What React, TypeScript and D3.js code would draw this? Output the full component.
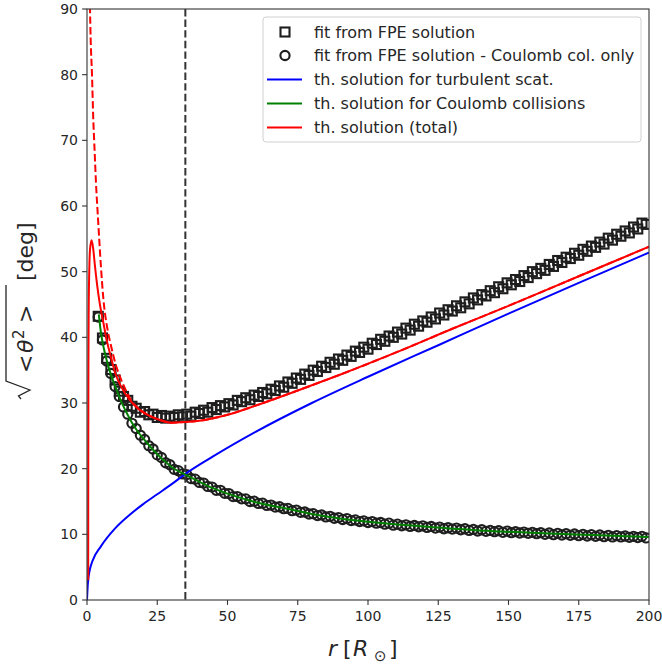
import React from 'react';
import * as d3 from 'd3';

// ---------- data ----------
const X_TICKS = [0, 25, 50, 75, 100, 125, 150, 175, 200];
const Y_TICKS = [0, 10, 20, 30, 40, 50, 60, 70, 80, 90];
const R_CRIT = 35;

// marker abscissae (r in solar radii)
const R_MARKERS = [
  4, 5.5, 7, 8.5, 10, 11.5, 13, 14.5, 16, 17.5,
  19, 20.5, 22, 23.5, 25, 26.5, 28, 29.5, 31, 32.5,
  34, 35.5, 37, 38.5, 40, 41.5, 43, 44.5, 46, 47.5,
  49, 50.5, 52, 53.5, 55, 56.5, 58, 59.5, 61, 62.5,
  64, 65.5, 67, 68.5, 70, 71.5, 73, 74.5, 76, 77.5,
  79, 80.5, 82, 83.5, 85, 86.5, 88, 89.5, 91, 92.5,
  94, 95.5, 97, 98.5, 100, 101.5, 103, 104.5, 106, 107.5,
  109, 110.5, 112, 113.5, 115, 116.5, 118, 119.5, 121, 122.5,
  124, 125.5, 127, 128.5, 130, 131.5, 133, 134.5, 136, 137.5,
  139, 140.5, 142, 143.5, 145, 146.5, 148, 149.5, 151, 152.5,
  154, 155.5, 157, 158.5, 160, 161.5, 163, 164.5, 166, 167.5,
  169, 170.5, 172, 173.5, 175, 176.5, 178, 179.5, 181, 182.5,
  184, 185.5, 187, 188.5, 190, 191.5, 193, 194.5, 196, 197.5,
  199,
];

// fit from FPE solution (squares)
const FPE_TOTAL = [
  43.2, 39.9, 36.8, 35.1, 33.5, 31.8, 31.0, 30.4, 29.5, 29.2,
  28.6, 28.7, 28.2, 28.3, 27.8, 28.1, 27.7, 28.0, 27.8, 28.2,
  27.9, 28.3, 28.0, 28.6, 28.4, 28.9, 28.6, 29.3, 29.0, 29.6,
  29.4, 29.9, 29.7, 30.4, 30.2, 30.8, 30.5, 31.2, 31.0, 31.6,
  31.4, 32.1, 31.9, 32.6, 32.4, 33.2, 33.0, 33.8, 33.6, 34.4,
  34.2, 35.0, 34.8, 35.6, 35.4, 36.2, 35.9, 36.7, 36.5, 37.3,
  37.1, 37.9, 37.7, 38.5, 38.2, 39.1, 38.9, 39.7, 39.4, 40.2,
  40.0, 40.8, 40.5, 41.4, 41.1, 42.0, 41.7, 42.5, 42.3, 43.1,
  42.8, 43.7, 43.4, 44.2, 44.0, 44.8, 44.5, 45.4, 45.1, 46.0,
  45.7, 46.5, 46.3, 47.1, 46.8, 47.7, 47.4, 48.3, 48.0, 48.8,
  48.5, 49.4, 49.1, 50.0, 49.7, 50.5, 50.2, 51.1, 50.8, 51.7,
  51.4, 52.2, 52.0, 52.8, 52.5, 53.4, 53.1, 53.9, 53.7, 54.5,
  54.2, 55.1, 54.8, 55.7, 55.4, 56.2, 55.9, 56.8, 56.5, 57.4,
  57.2,
];

// fit from FPE solution - Coulomb col. only (circles)
const FPE_COULOMB = [
  43.1, 39.6, 36.4, 34.5, 32.5, 31.0, 29.4, 28.3, 26.9, 26.1,
  25.1, 24.45, 23.5, 23.0, 22.1, 21.7, 20.9, 20.6, 19.9, 19.7,
  19.2, 19.1, 18.5, 18.4, 17.9, 17.8, 17.3, 17.2, 16.7, 16.7,
  16.25, 16.2, 15.75, 15.75, 15.4, 15.4, 15.0, 15.05, 14.7, 14.75,
  14.4, 14.45, 14.15, 14.2, 13.9, 13.95, 13.6, 13.7, 13.35, 13.4,
  13.1, 13.15, 12.85, 12.95, 12.65, 12.75, 12.45, 12.55, 12.25, 12.4,
  12.1, 12.2, 11.95, 12.05, 11.8, 11.95, 11.7, 11.8, 11.55, 11.7,
  11.4, 11.55, 11.3, 11.45, 11.2, 11.35, 11.15, 11.3, 11.05, 11.2,
  10.95, 11.1, 10.85, 11.0, 10.8, 10.95, 10.7, 10.85, 10.6, 10.75,
  10.5, 10.7, 10.45, 10.6, 10.4, 10.55, 10.3, 10.5, 10.25, 10.4,
  10.2, 10.35, 10.15, 10.3, 10.1, 10.25, 10.0, 10.2, 9.95, 10.15,
  9.9, 10.1, 9.85, 10.05, 9.8, 10.0, 9.75, 9.95, 9.7, 9.9,
  9.65, 9.85, 9.6, 9.8, 9.6, 9.75, 9.55, 9.7, 9.5, 9.7,
  9.45,
];

// th. solution for turbulent scat. (blue)
const TURB_R = [0, 0.3, 1, 2, 5, 10, 15, 20, 25, 30, 35, 45, 60, 80, 100, 125, 150, 175, 200];
const TURB_V = [0, 2.5, 4.6, 6.0, 8.2, 10.9, 12.9, 14.6, 16.1, 17.6, 19.2, 21.9, 25.6, 30.0, 34.0, 38.8, 43.6, 48.3, 52.9];

// th. solution for Coulomb collisions (green)
const COUL_R = [4.2, 5, 6, 7, 8, 9, 10, 12, 14, 16, 18, 20, 22, 25, 28, 30, 33, 35, 40, 45, 50, 60, 70, 80, 90, 100, 120, 140, 160, 180, 200];
const COUL_V = [43.5, 40.6, 38.3, 36.5, 35.0, 33.7, 32.6, 30.4, 28.6, 27.0, 25.7, 24.6, 23.6, 22.2, 21.0, 20.3, 19.5, 19.1, 18.0, 17.0, 16.2, 14.9, 14.0, 13.1, 12.4, 11.9, 11.2, 10.6, 10.2, 9.9, 9.6];

// th. solution (total), solid red
const TOTAL_R = [0.42, 0.45, 0.5, 0.6, 0.8, 1.1, 1.65, 2.2, 2.85, 3.6, 4.6, 5.8, 7, 8.5, 10, 12, 15, 18, 22, 26, 30, 35, 40, 50, 60, 75, 90, 110, 130, 150, 175, 200];
const TOTAL_V = [3, 20, 35, 44, 50, 53.5, 54.8, 53.5, 50.8, 48, 45, 42.3, 39.6, 37, 34.6, 32.6, 30.6, 29.2, 28.1, 27.4, 27.0, 27.1, 27.3, 28.2, 29.6, 31.9, 34.3, 37.7, 41.3, 44.8, 49.3, 53.8];

// total without inner cut-off, dashed red
const NOCUT_R = [1.05, 1.3, 1.78, 2.25, 2.6, 3.2, 4.0, 5, 5.8, 7.3, 8.5, 10, 12, 14, 16, 18, 22, 26, 30, 35, 40, 50, 60, 75, 90, 110, 130, 150, 175, 200];
const NOCUT_V = [90.5, 85.5, 80, 73, 69.5, 63.5, 57.5, 50.5, 46, 41.2, 38.8, 36.2, 33.7, 31.8, 30.2, 29.3, 28.1, 27.4, 27.0, 27.1, 27.3, 28.2, 29.6, 31.9, 34.3, 37.7, 41.3, 44.8, 49.3, 53.8];

const LEGEND_LABELS = [
  'fit from FPE solution',
  'fit from FPE solution - Coulomb col. only',
  'th. solution for turbulent scat.',
  'th. solution for Coulomb collisions',
  'th. solution (total)',
];

// ---------- layout ----------
const W = 662;
const H = 666;
const L = 87, R = 649, T = 9, B = 600;
const FONT = 'DejaVu Sans, sans-serif';
const TXT = '#262626';
const MK = '#1e1e1e';

export default function App() {
  const x = d3.scaleLinear().domain([0, 200]).range([L, R]);
  const y = d3.scaleLinear().domain([0, 90]).range([B, T]);
  const line = d3
    .line<[number, number]>()
    .x((d) => x(d[0]))
    .y((d) => y(d[1]))
    .curve(d3.curveMonotoneX);
  const zip = (a: number[], b: number[]) => a.map((v, i) => [v, b[i]] as [number, number]);

  const sq = 9;
  const cr = 4.6;
  const sw = 2.1;
  const lgY = [32, 55.5, 79.5, 103.5, 127.5];

  return (
    <svg width={W} height={H} style={{ position: 'absolute', left: 0, top: 0, background: '#fff' }} fontFamily={FONT}>
      <defs>
        <clipPath id="plotclip">
          <rect x={L} y={T} width={R - L} height={B - T} />
        </clipPath>
      </defs>
      <rect x={0} y={0} width={W} height={H} fill="#fff" />

      <g clipPath="url(#plotclip)">
        {R_MARKERS.map((r, i) => (
          <rect
            key={'s' + i}
            x={x(r) - sq / 2}
            y={y(FPE_TOTAL[i]) - sq / 2}
            width={sq}
            height={sq}
            fill="none"
            stroke={MK}
            strokeWidth={sw}
          />
        ))}
        {R_MARKERS.map((r, i) => (
          <circle
            key={'c' + i}
            cx={x(r)}
            cy={y(FPE_COULOMB[i])}
            r={cr}
            fill="none"
            stroke={MK}
            strokeWidth={sw}
          />
        ))}
        <line
          x1={x(R_CRIT)}
          x2={x(R_CRIT)}
          y1={T}
          y2={B}
          stroke="#333"
          strokeWidth={2}
          strokeDasharray="7.4,3.2"
        />
        <path d={line(zip(TURB_R, TURB_V)) || ''} fill="none" stroke="#0000ff" strokeWidth={2} />
        <path d={line(zip(COUL_R, COUL_V)) || ''} fill="none" stroke="#008000" strokeWidth={2} />
        <path d={line(zip(TOTAL_R, TOTAL_V)) || ''} fill="none" stroke="#ff0000" strokeWidth={2} />
        <path
          d={line(zip(NOCUT_R, NOCUT_V)) || ''}
          fill="none"
          stroke="#ff0000"
          strokeWidth={2}
          strokeDasharray="7.4,3.2"
        />
      </g>

      {/* frame */}
      <rect x={L} y={T} width={R - L} height={B - T} fill="none" stroke="#333" strokeWidth={1.1} />

      {/* x ticks */}
      {X_TICKS.map((t) => (
        <g key={'xt' + t}>
          <line x1={x(t)} x2={x(t)} y1={B} y2={B + 4.9} stroke="#333" strokeWidth={1.1} />
          <text x={x(t)} y={B + 21} fontSize={14} textAnchor="middle" fill={TXT}>
            {t}
          </text>
        </g>
      ))}
      {/* y ticks */}
      {Y_TICKS.map((t) => (
        <g key={'yt' + t}>
          <line x1={L - 4.9} x2={L} y1={y(t)} y2={y(t)} stroke="#333" strokeWidth={1.1} />
          <text x={L - 9} y={y(t) + 5} fontSize={14} textAnchor="end" fill={TXT}>
            {t}
          </text>
        </g>
      ))}

      {/* x label: r [R_sun] */}
      <g fill={TXT} fontSize={22}>
        <text x={328} y={656} fontStyle="italic">r</text>
        <text x={343} y={656}>[</text>
        <text x={353} y={656} fontStyle="italic">R</text>
        <text x={374} y={661} fontSize={15}>⊙</text>
        <text x={389} y={656}>]</text>
      </g>

      {/* y label: sqrt(<theta^2>) [deg] */}
      <g transform="translate(33,307) rotate(-90)" fill={TXT}>
        <path
          d="M -92 -12 L -89 -14.5 L -83 -3 L -74 -27 L 22 -27"
          fill="none"
          stroke={TXT}
          strokeWidth={1.3}
        />
        <text x={-66} y={0} fontSize={22}>&lt;</text>
        <text x={-46} y={0} fontSize={22} fontStyle="italic">θ</text>
        <text x={-32} y={-9} fontSize={15}>2</text>
        <text x={-16} y={0} fontSize={22}>&gt;</text>
        <text x={26} y={0} fontSize={22}>[deg]</text>
      </g>

      {/* legend */}
      <rect x={263} y={17} width={378} height={125} rx={3} fill="#fff" fillOpacity={0.8} stroke="#d0d0d0" strokeWidth={1} />
      <rect x={285 - sq / 2} y={lgY[0] - sq / 2} width={sq} height={sq} fill="none" stroke={MK} strokeWidth={sw} />
      <circle cx={285} cy={lgY[1]} r={cr} fill="none" stroke={MK} strokeWidth={sw} />
      <line x1={267} x2={302} y1={lgY[2]} y2={lgY[2]} stroke="#0000ff" strokeWidth={2} />
      <line x1={267} x2={302} y1={lgY[3]} y2={lgY[3]} stroke="#008000" strokeWidth={2} />
      <line x1={267} x2={302} y1={lgY[4]} y2={lgY[4]} stroke="#ff0000" strokeWidth={2} />
      {LEGEND_LABELS.map((s, i) => (
        <text key={'lg' + i} x={314} y={lgY[i] + 5.5} fontSize={16} fill={TXT}>
          {s}
        </text>
      ))}
    </svg>
  );
}
